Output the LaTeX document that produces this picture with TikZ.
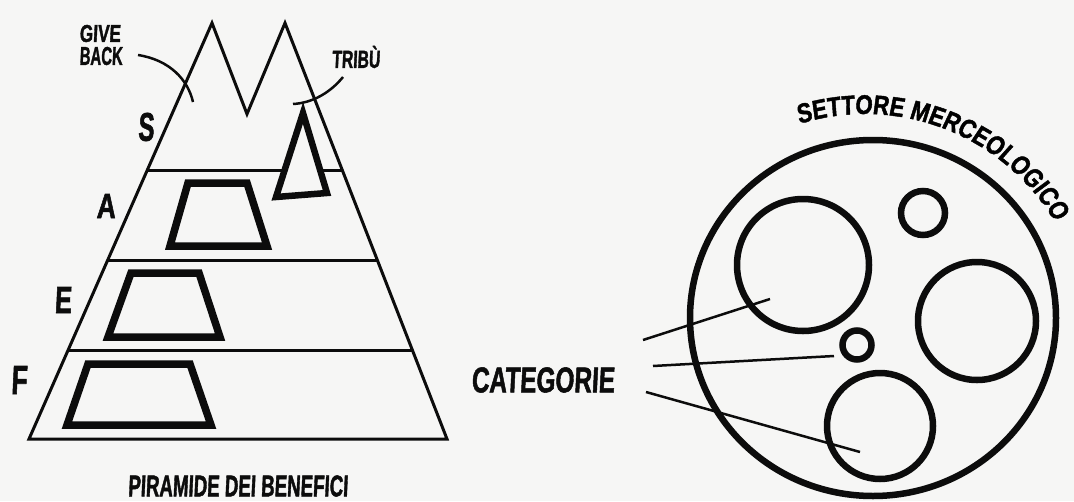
\documentclass[tikz,border=0pt]{standalone}
\usepackage{fontspec}
\usepackage{graphicx}
\newfontfamily\hand[FakeStretch=0.82, FakeSlant=0.06, BoldFeatures={FakeBold=1.6}]{Liberation Sans}
\usetikzlibrary{calc,decorations.text,shapes.geometric}
\definecolor{paper}{RGB}{246,246,245}
\definecolor{ink}{RGB}{12,12,12}
\newcommand\handtxt[3]{\resizebox{#1}{#2}{\hand\bfseries #3}}
\tikzset{
  thinline/.style={draw=ink, line width=3pt, line join=miter},
  thickbox/.style={draw=ink, line width=7.5pt, line join=miter},
  leader/.style={draw=ink, line width=2.5pt},
  ring/.style={draw=ink, line width=6.5pt, circle, inner sep=0pt},
  lbl/.style={inner sep=0pt, text=ink}
}
\begin{document}
\begin{tikzpicture}[x=1pt,y=1pt]
\path[use as bounding box, fill=paper] (0,0) rectangle (1074,-501);

% ---------------- pyramid ----------------
\coordinate (bl) at (29,-439);
\coordinate (pL) at (212,-23);
\coordinate (pV) at (247,-114);
\coordinate (pR) at (285,-23);
\coordinate (br) at (447,-439);
\draw[thinline] (bl) -- (pL) -- (pV) -- (pR) -- (br) -- cycle;

\coordinate (l1a) at ($(pL)!0.3534!(bl)$);
\coordinate (l1b) at ($(pR)!0.3534!(br)$);
\coordinate (l2a) at ($(pL)!0.5697!(bl)$);
\coordinate (l2b) at ($(pR)!0.5697!(br)$);
\coordinate (l3a) at ($(pL)!0.7861!(bl)$);
\coordinate (l3b) at ($(pR)!0.7861!(br)$);
\draw[thinline] (l1a) -- (l1b);
\draw[thinline] (l2a) -- (l2b);
\draw[thinline] (l3a) -- (l3b);

% trapezoids
\draw[thickbox] (188,-183) -- (247,-183) -- (267,-246) -- (170,-246) -- cycle;
\draw[thickbox] (131,-273) -- (199,-273) -- (220,-337) -- (108,-337) -- cycle;
\draw[thickbox] (88,-364) -- (190,-364) -- (211,-425) -- (67,-425) -- cycle;
% tribe triangle
\draw[draw=ink, fill=paper, line width=6.5pt, line join=miter] (303,-113) -- (327,-193) -- (276,-197) -- cycle;

% labels
\node[lbl] (give) at (100,-33.5) {\handtxt{41pt}{17pt}{GIVE}};
\node[lbl] (back) at (101,-56) {\handtxt{43pt}{18pt}{BACK}};
\node[lbl] (tribu) at (356,-57) {\handtxt{48pt}{22pt}{TRIBÙ}};
\node[lbl] (S) at (146,-127) {\handtxt{16pt}{28pt}{S}};
\node[lbl] (A) at (106,-206) {\handtxt{19pt}{24pt}{A}};
\node[lbl] (E) at (63,-300) {\handtxt{17pt}{26pt}{E}};
\node[lbl] (F) at (19,-380) {\handtxt{16pt}{28pt}{F}};
\node[lbl] (piramide) at (238,-486) {\handtxt{220pt}{21pt}{PIRAMIDE DEI BENEFICI}};

\coordinate (gbs) at (138,-55);
\coordinate (gbe) at (193,-102);
\draw[leader] (gbs) .. controls (170,-60) and (188,-80) .. (gbe);
\coordinate (trs) at (343,-77);
\coordinate (tre) at (293,-104);
\draw[leader] (trs) .. controls (330,-93) and (312,-103) .. (tre);

% ---------------- sector ----------------
\node[draw=ink, line width=6.5pt, ellipse, inner sep=0pt, minimum width=366pt, minimum height=356pt] (sector) at (873,-318) {};
\node[ring, minimum size=132pt] (c1) at (803,-265) {};
\node[ring, minimum size=44pt] (c2) at (923,-213) {};
\node[ring, minimum size=118pt] (c3) at (977,-321) {};
\node[ring, minimum size=29pt] (c4) at (857,-345) {};
\node[ring, minimum size=106pt] (c5) at (880,-426) {};

\node[lbl] (categorie) at (543,-380) {\handtxt{143pt}{25pt}{CATEGORIE}};
\coordinate (k1s) at (643,-340);
\coordinate (k1e) at (770,-299);
\coordinate (k2s) at (653,-366);
\coordinate (k2e) at (834,-356);
\coordinate (k3s) at (646,-392);
\coordinate (k3e) at (860,-452);
\draw[leader] (k1s) -- (k1e);
\draw[leader] (k2s) -- (k2e);
\draw[leader] (k3s) -- (k3e);

\path[postaction={decorate, decoration={text along path, text align=center,
  text={|\hand\bfseries\fontsize{27pt}{27pt}\selectfont|SETTORE MERCEOLOGICO}}}]
  (865,-335) ++(109:221) arc[start angle=109, end angle=29, radius=221];
\end{tikzpicture}
\end{document}
